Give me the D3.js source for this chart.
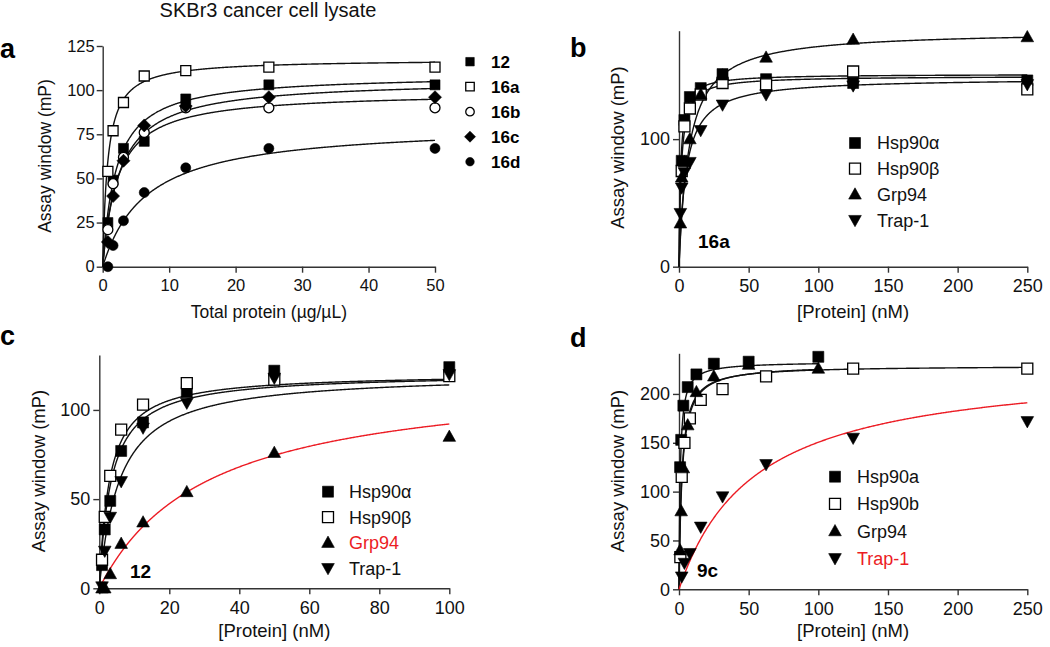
<!DOCTYPE html>
<html><head><meta charset="utf-8">
<script src="https://cdn.jsdelivr.net/npm/d3@7"></script>
<style>body{margin:0;background:#fff}svg{display:block}</style>
</head><body>
<svg id="chart" width="1050" height="647"></svg>
<script>
// ================= DATA =================
// Panel a: SKBr3 lysate, total protein (µg/µL)
const concA = [0.78, 1.56, 3.125, 6.25, 12.5, 25, 50];
const namesA = ["12", "16a", "16b", "16c", "16d"];
const valsA_12  = [25, 49, 67, 71, 95, 103, 103];
const valsA_16a = [54, 77, 93, 108, 111, 113, 113];
const valsA_16b = [21, 47, 62, 76, 90, 90, 90];
const valsA_16c = [14, 40, 60, 80, 91, 96, 96];
const valsA_16d = [0, 12, 26, 42, 56, 67, 67];
const fitA_Bmax = [109, 117.5, 99, 106, 81];
const fitA_Kd   = [2.0, 0.75, 2.2, 2.5, 6.6];
const ticksAx = [0, 10, 20, 30, 40, 50];
const ticksAy = [0, 25, 50, 75, 100, 125];

// Panel b: 16a, [Protein] (nM)
const concB = [0.98, 1.95, 3.9, 7.8, 15.6, 31.25, 62.5, 125, 250];
const namesB = ["Hsp90\u03b1", "Hsp90\u03b2", "Grp94", "Trap-1"];
const valsB_a = [null, 83, 115, 133, 140, 151, 147, 144, 146];
const valsB_b = [null, 75, 110, 124, 135, 144, 143, 153, 139];
const valsB_g = [34, 70, 82, 100, 135, 150, 164, 178, 180];
const valsB_t = [42, 62, 74, 82, 107, 127, 135, 142, 143];
const fitB_Bmax = [151, 149.5, 185, 148];
const fitB_Kd   = [1.2, 1.6, 7.2, 5.0];
const ticksBx = [0, 50, 100, 150, 200, 250];
const ticksBy = [0, 100];

// Panel c: 12, [Protein] (nM)
const concC = [0.78, 1.56, 3.125, 6.25, 12.5, 25, 50, 100];
const namesC = ["Hsp90\u03b1", "Hsp90\u03b2", "Grp94", "Trap-1"];
const valsC_a = [13, 33, 49, 77, 93, 110, 122, 124];
const valsC_b = [16, 40, 63, 89, 103, 115, 117, 119];
const valsC_g = [0, 0, 8, 25, 37, 54, 76, 85];
const valsC_t = [1, 21, 40, 60, 90, 104, 118, 120];
const fitC_Bmax = [120.5, 120.6, 120.6, 120.6];
const fitC_Kd   = [3.4, 2.9, 30.9, 5.75];
const ticksCx = [0, 20, 40, 60, 80, 100];
const ticksCy = [0, 50, 100];

// Panel d: 9c, [Protein] (nM)
const concD_short = [0.78, 1.56, 3.125, 6.25, 12.5, 25, 50, 100];
const concD_long  = [0.98, 1.95, 3.9, 7.8, 15.6, 31.25, 62.5, 125, 250];
const namesD = ["Hsp90a", "Hsp90b", "Grp94", "Trap-1"];
const valsD_a = [125, 153, 188, 207, 220, 231, 233, 238];
const valsD_b = [33, 115, 150, 175, 194, 205, 218, 226, 226];
const valsD_g = [40, 80, 124, 168, 202, 218, 230, 226];
const valsD_t = [null, 13, 27, 37, 64, 95, 128, 155, 172];
const fitD_Bmax = [233, 229, 230, 232.7];
const fitD_Kd   = [0.9, 2.0, 2.2, 54.6];
const ticksDx = [0, 50, 100, 150, 200, 250];
const ticksDy = [0, 50, 100, 150, 200];

// ================= DRAWING =================
const FONT = "'Liberation Sans', Arial, Helvetica, sans-serif";
const RED = "#ec1c24";
const svg = d3.select("#chart");

function markerPath(shape, s) {
  const h = s / 2;
  switch (shape) {
    case "square": return `M${-h},${-h}H${h}V${h}H${-h}Z`;
    case "circle": return d3.symbol(d3.symbolCircle, Math.PI * h * h)();
    case "diamond": { const d = h * 1.3; return `M0,${-d}L${d},0L0,${d}L${-d},0Z`; }
    case "up": return `M0,${-h * 1.2}L${h * 1.15},${h * 0.85}L${-h * 1.15},${h * 0.85}Z`;
    case "down": return `M0,${h * 1.2}L${h * 1.15},${-h * 0.85}L${-h * 1.15},${-h * 0.85}Z`;
  }
}
function drawMarker(g, shape, filled, s, cx, cy) {
  g.append("path").attr("d", markerPath(shape, s))
    .attr("transform", `translate(${cx},${cy})`)
    .attr("fill", filled ? "#000" : "#fff")
    .attr("stroke", "#000").attr("stroke-width", filled ? 0.6 : 1.3);
}

function drawPanel(p) {
  const g = svg.append("g");
  const x = d3.scaleLinear().domain(p.xDomain).range(p.xRange);
  const y = d3.scaleLinear().domain(p.yDomain).range(p.yRange);

  const xa = g.append("g").attr("transform", `translate(0,${p.yRange[0]})`)
    .call(d3.axisBottom(x).tickValues(p.xTicks).tickSize(6).tickSizeOuter(0).tickPadding(7));
  const ya = g.append("g").attr("transform", `translate(${p.xRange[0]},0)`)
    .call(d3.axisLeft(y).tickValues(p.yTicks).tickSize(6).tickSizeOuter(0).tickPadding(p.yPad));
  [xa, ya].forEach(a => {
    a.selectAll("path,line").attr("stroke", "#333").attr("stroke-width", 1.4);
    a.selectAll("text").attr("font-family", FONT).attr("font-size", p.tickFont).attr("fill", "#111");
  });

  // fitted curves
  p.series.forEach(s => {
    const pts = d3.range(0, 601).map(i => {
      const xv = s.xMax * Math.pow(i / 600, 2);
      return [xv, s.Bmax * xv / (s.Kd + xv)];
    });
    g.append("path").attr("d", d3.line().x(d => x(d[0])).y(d => y(d[1]))(pts))
      .attr("fill", "none").attr("stroke", s.curveColor).attr("stroke-width", 1.4);
  });
  // data points
  p.series.forEach(s => {
    s.x.forEach((xv, i) => {
      if (s.y[i] == null) return;
      drawMarker(g, s.shape, s.filled, p.markerSize, x(xv), y(s.y[i]));
    });
  });
  // legend
  p.series.forEach((s, i) => {
    const ly = p.legend.y0 + i * p.legend.dy;
    drawMarker(g, s.shape, s.filled, p.legend.size, p.legend.mx, ly);
    g.append("text").attr("x", p.legend.tx).attr("y", ly).attr("dy", "0.36em")
      .attr("font-family", FONT).attr("font-size", p.legend.font)
      .attr("font-weight", p.legend.bold ? "bold" : "normal")
      .attr("fill", s.labelColor).text(s.name);
  });
  // axis titles
  g.append("text").attr("x", (p.xRange[0] + p.xRange[1]) / 2 + p.xTitleDx).attr("y", p.xTitleY)
    .attr("text-anchor", "middle").attr("font-family", FONT).attr("font-size", p.titleFont)
    .attr("fill", "#111").text(p.xTitle);
  g.append("text").attr("transform", `translate(${p.yTitleX},${p.yTitleCy}) rotate(-90)`)
    .attr("dy", "0.35em").attr("text-anchor", "middle").attr("font-family", FONT)
    .attr("font-size", p.titleFont).attr("fill", "#111").text("Assay window (mP)");
  // panel letter
  svg.append("text").attr("x", p.letter.x).attr("y", p.letter.y).attr("font-family", FONT)
    .attr("font-size", 27).attr("font-weight", "bold").attr("fill", "#000").text(p.letter.t);
  // compound tag
  if (p.tag) svg.append("text").attr("x", p.tag.x).attr("y", p.tag.y).attr("font-family", FONT)
    .attr("font-size", 19).attr("font-weight", "bold").attr("fill", "#000").text(p.tag.t);
}

const blk = "#111";
// ---- panel a ----
const valsA = [valsA_12, valsA_16a, valsA_16b, valsA_16c, valsA_16d];
const shapesA = [["square", true], ["square", false], ["circle", false], ["diamond", true], ["circle", true]];
drawPanel({
  xDomain: [0, 50], xRange: [102.7, 435], yDomain: [0, 125], yRange: [266.7, 46],
  xTicks: ticksAx, yTicks: ticksAy, yPad: 2, tickFont: 16.5, titleFont: 17.5, markerSize: 10,
  series: namesA.map((n, i) => ({ name: n, x: concA, y: valsA[i], shape: shapesA[i][0], filled: shapesA[i][1],
    Bmax: fitA_Bmax[i], Kd: fitA_Kd[i], xMax: 50, curveColor: blk, labelColor: "#000" })),
  legend: { mx: 470, tx: 491, y0: 61.7, dy: 25, size: 8.5, font: 17, bold: true },
  xTitle: "Total protein (\u00b5g/\u00b5L)", xTitleDx: 0, xTitleY: 318, yTitleX: 44.5, yTitleCy: 156,
  letter: { x: 0, y: 58, t: "a" }
});
svg.append("text").attr("x", 268).attr("y", 17).attr("text-anchor", "middle").attr("font-family", FONT)
  .attr("font-size", 20).attr("fill", "#111").text("SKBr3 cancer cell lysate");

// ---- panel b ----
const valsB = [valsB_a, valsB_b, valsB_g, valsB_t];
const shapesBCD = [["square", true], ["square", false], ["up", true], ["down", true]];
drawPanel({
  xDomain: [0, 250], xRange: [679, 1027.3], yDomain: [0, 185], yRange: [266.7, 30.7],
  xTicks: ticksBx, yTicks: ticksBy, yPad: 3, tickFont: 18, titleFont: 18.5, markerSize: 11,
  series: namesB.map((n, i) => ({ name: n, x: concB, y: valsB[i], shape: shapesBCD[i][0], filled: shapesBCD[i][1],
    Bmax: fitB_Bmax[i], Kd: fitB_Kd[i], xMax: 250, curveColor: blk, labelColor: "#111" })),
  legend: { mx: 855, tx: 877, y0: 143, dy: 25.7, size: 11, font: 18, bold: false },
  xTitle: "[Protein] (nM)", xTitleDx: 0, xTitleY: 318, yTitleX: 617.5, yTitleCy: 147.5,
  letter: { x: 570, y: 57, t: "b" }, tag: { x: 698, y: 248, t: "16a" }
});

// ---- panel c ----
const valsC = [valsC_a, valsC_b, valsC_g, valsC_t];
drawPanel({
  xDomain: [0, 100], xRange: [99.3, 449.3], yDomain: [0, 130.8], yRange: [588.3, 355],
  xTicks: ticksCx, yTicks: ticksCy, yPad: 3, tickFont: 18, titleFont: 18.5, markerSize: 11,
  series: namesC.map((n, i) => ({ name: n, x: concC, y: valsC[i], shape: shapesBCD[i][0], filled: shapesBCD[i][1],
    Bmax: fitC_Bmax[i], Kd: fitC_Kd[i], xMax: 100, curveColor: i === 2 ? RED : blk,
    labelColor: i === 2 ? RED : "#111" })),
  legend: { mx: 328, tx: 349, y0: 491.7, dy: 25.5, size: 11, font: 18, bold: false },
  xTitle: "[Protein] (nM)", xTitleDx: 0, xTitleY: 637, yTitleX: 39, yTitleCy: 471,
  letter: { x: 0, y: 345, t: "c" }, tag: { x: 130, y: 578, t: "12" }
});

// ---- panel d ----
const valsD = [valsD_a, valsD_b, valsD_g, valsD_t];
const concD = [concD_short, concD_long, concD_short, concD_long];
const xMaxD = [100, 250, 100, 250];
drawPanel({
  xDomain: [0, 250], xRange: [679, 1027.3], yDomain: [0, 241.6], yRange: [589.3, 353.3],
  xTicks: ticksDx, yTicks: ticksDy, yPad: 3, tickFont: 18, titleFont: 18.5, markerSize: 11,
  series: namesD.map((n, i) => ({ name: n, x: concD[i], y: valsD[i], shape: shapesBCD[i][0], filled: shapesBCD[i][1],
    Bmax: fitD_Bmax[i], Kd: fitD_Kd[i], xMax: xMaxD[i], curveColor: i === 3 ? RED : blk,
    labelColor: i === 3 ? RED : "#111" })),
  legend: { mx: 835, tx: 857, y0: 476.7, dy: 27.2, size: 11, font: 18, bold: false },
  xTitle: "[Protein] (nM)", xTitleDx: 0, xTitleY: 637, yTitleX: 617.5, yTitleCy: 471,
  letter: { x: 570, y: 346.5, t: "d" }, tag: { x: 697, y: 576.7, t: "9c" }
});
</script>
</body></html>
